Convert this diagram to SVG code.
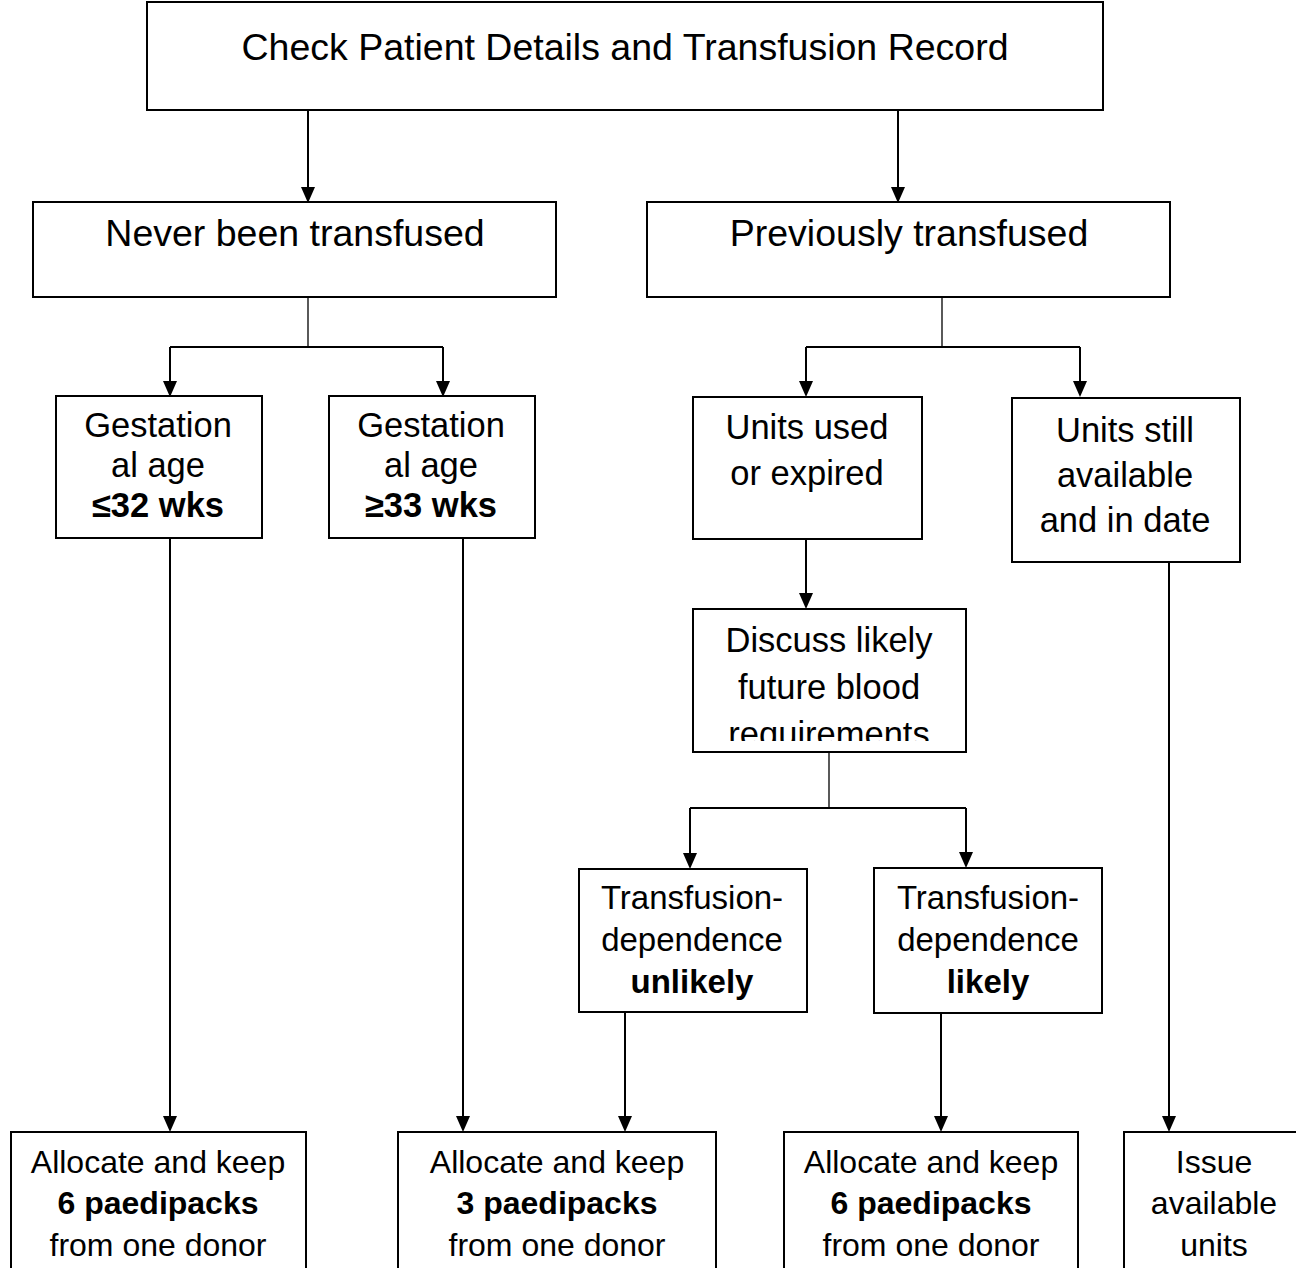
<svg xmlns="http://www.w3.org/2000/svg" width="1296" height="1268" viewBox="0 0 1296 1268">
<style>
.box{fill:#fff;stroke:#000;stroke-width:2}
.t{font-family:"Liberation Sans",Arial,sans-serif;fill:#000;text-anchor:middle}
.big{font-size:37.5px}
.md{font-size:34.5px}
.td{font-size:33px}
.sm{font-size:32px}
.b{font-weight:bold}
.c{fill:none;stroke:#000;stroke-width:2}
.s{fill:none;stroke:#000;stroke-width:1.3}
</style>
<defs>
<clipPath id="clipD"><rect x="693" y="609" width="273" height="132"/></clipPath>
</defs>
<rect width="1296" height="1268" fill="#fff"/>
<g id="connectors">
<line class="c" x1="308" y1="110" x2="308" y2="190"/>
<line class="c" x1="898" y1="110" x2="898" y2="190"/>
<line class="s" x1="308" y1="297" x2="308" y2="347"/>
<line class="c" x1="170" y1="347" x2="443" y2="347"/>
<line class="c" x1="170" y1="347" x2="170" y2="384"/>
<line class="c" x1="443" y1="347" x2="443" y2="384"/>
<line class="s" x1="942" y1="297" x2="942" y2="347"/>
<line class="c" x1="806" y1="347" x2="1080" y2="347"/>
<line class="c" x1="806" y1="347" x2="806" y2="384"/>
<line class="c" x1="1080" y1="347" x2="1080" y2="384"/>
<line class="c" x1="806" y1="539" x2="806" y2="596"/>
<line class="s" x1="829" y1="752" x2="829" y2="808"/>
<line class="c" x1="690" y1="808" x2="966" y2="808"/>
<line class="c" x1="690" y1="808" x2="690" y2="856"/>
<line class="c" x1="966" y1="808" x2="966" y2="855"/>
<line class="c" x1="170" y1="538" x2="170" y2="1119"/>
<line class="c" x1="463" y1="538" x2="463" y2="1119"/>
<line class="c" x1="625" y1="1012" x2="625" y2="1119"/>
<line class="c" x1="941" y1="1013" x2="941" y2="1119"/>
<line class="c" x1="1169" y1="562" x2="1169" y2="1119"/>
<g fill="#000">
<path d="M301,187 L315,187 L308,203 Z"/>
<path d="M891,187 L905,187 L898,203 Z"/>
<path d="M163,381 L177,381 L170,397 Z"/>
<path d="M436,381 L450,381 L443,397 Z"/>
<path d="M799,381 L813,381 L806,397 Z"/>
<path d="M1073,381 L1087,381 L1080,397 Z"/>
<path d="M799,593 L813,593 L806,609 Z"/>
<path d="M683,853 L697,853 L690,869 Z"/>
<path d="M959,852 L973,852 L966,868 Z"/>
<path d="M163,1116 L177,1116 L170,1132 Z"/>
<path d="M456,1116 L470,1116 L463,1132 Z"/>
<path d="M618,1116 L632,1116 L625,1132 Z"/>
<path d="M934,1116 L948,1116 L941,1132 Z"/>
<path d="M1162,1116 L1176,1116 L1169,1132 Z"/>
</g>
</g>
<g id="n-check">
<rect class="box" x="147" y="2" width="956" height="108"/>
<text class="t big" x="625" y="60">Check Patient Details and Transfusion Record</text>
</g>
<g id="n-never">
<rect class="box" x="33" y="202" width="523" height="95"/>
<text class="t big" x="295" y="246">Never been transfused</text>
</g>
<g id="n-prev">
<rect class="box" x="647" y="202" width="523" height="95"/>
<text class="t big" x="909" y="246">Previously transfused</text>
</g>
<g id="n-ga32">
<rect class="box" x="56" y="396" width="206" height="142"/>
<text class="t md" x="158" y="437">Gestation</text>
<text class="t md" x="158" y="477">al age</text>
<text class="t md b" x="158" y="517">≤32 wks</text>
</g>
<g id="n-ga33">
<rect class="box" x="329" y="396" width="206" height="142"/>
<text class="t md" x="431" y="437">Gestation</text>
<text class="t md" x="431" y="477">al age</text>
<text class="t md b" x="431" y="517">≥33 wks</text>
</g>
<g id="n-used">
<rect class="box" x="693" y="397" width="229" height="142"/>
<text class="t md" x="807" y="439">Units used</text>
<text class="t md" x="807" y="485">or expired</text>
</g>
<g id="n-still">
<rect class="box" x="1012" y="398" width="228" height="164"/>
<text class="t md" x="1125" y="442">Units still</text>
<text class="t md" x="1125" y="487">available</text>
<text class="t md" x="1125" y="532">and in date</text>
</g>
<g id="n-discuss">
<rect class="box" x="693" y="609" width="273" height="143"/>
<text class="t md" x="829" y="652">Discuss likely</text>
<text class="t md" x="829" y="699">future blood</text>
<text class="t md" x="829" y="746" clip-path="url(#clipD)">requirements</text>
</g>
<g id="n-unlikely">
<rect class="box" x="579" y="869" width="228" height="143"/>
<text class="t td" x="692" y="909">Transfusion-</text>
<text class="t td" x="692" y="951">dependence</text>
<text class="t td b" x="692" y="993">unlikely</text>
</g>
<g id="n-likely">
<rect class="box" x="874" y="868" width="228" height="145"/>
<text class="t td" x="988" y="909">Transfusion-</text>
<text class="t td" x="988" y="951">dependence</text>
<text class="t td b" x="988" y="993">likely</text>
</g>
<g id="n-alloc6a">
<rect class="box" x="11" y="1132" width="295" height="160"/>
<text class="t sm" x="158" y="1173">Allocate and keep</text>
<text class="t sm b" x="158" y="1214">6 paedipacks</text>
<text class="t sm" x="158" y="1256">from one donor</text>
</g>
<g id="n-alloc3">
<rect class="box" x="398" y="1132" width="318" height="160"/>
<text class="t sm" x="557" y="1173">Allocate and keep</text>
<text class="t sm b" x="557" y="1214">3 paedipacks</text>
<text class="t sm" x="557" y="1256">from one donor</text>
</g>
<g id="n-alloc6b">
<rect class="box" x="784" y="1132" width="294" height="160"/>
<text class="t sm" x="931" y="1173">Allocate and keep</text>
<text class="t sm b" x="931" y="1214">6 paedipacks</text>
<text class="t sm" x="931" y="1256">from one donor</text>
</g>
<g id="n-issue">
<rect class="box" x="1124" y="1132" width="200" height="160"/>
<text class="t sm" x="1214" y="1173">Issue</text>
<text class="t sm" x="1214" y="1214">available</text>
<text class="t sm" x="1214" y="1256">units</text>
</g>
</svg>
